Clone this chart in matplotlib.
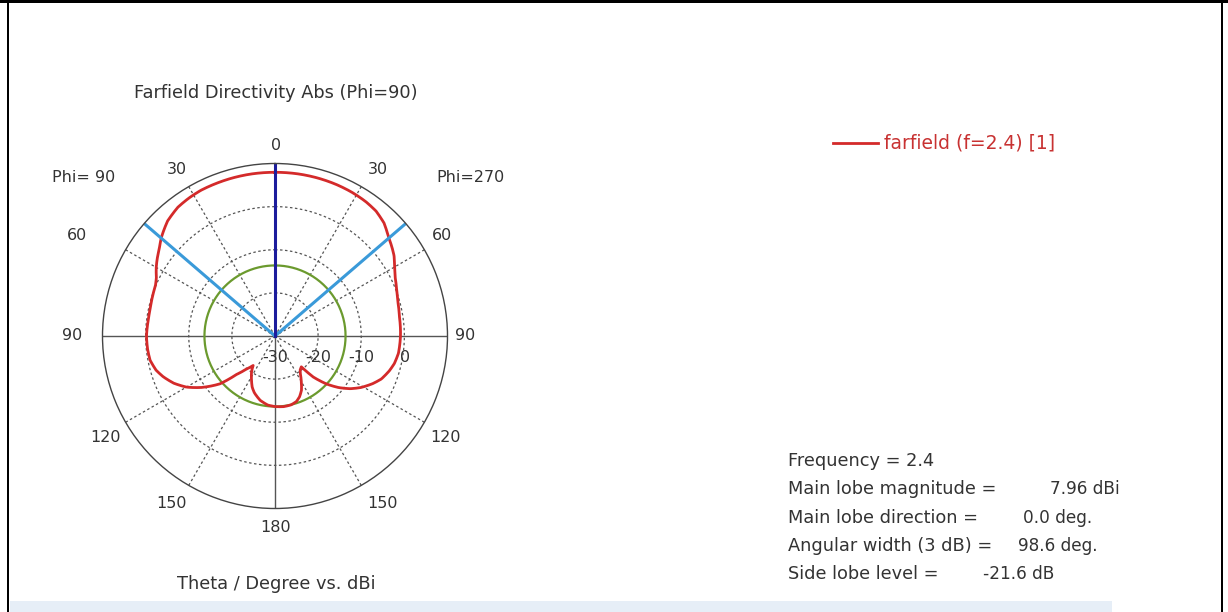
import numpy as np
import matplotlib
matplotlib.use("Agg")
import matplotlib.pyplot as plt
from matplotlib.lines import Line2D
from matplotlib.patches import Rectangle

# farfield cut, Phi=270 half (right side), theta in deg, directivity in dBi
theta_right = [0, 8, 15, 22, 28, 34, 39, 44, 49, 53, 56, 60, 64, 69, 74, 81, 90,
               98, 103, 107, 112, 116, 121, 125, 129, 133, 137, 139.5, 143, 146,
               150, 154, 158, 162, 167, 173, 180]
dbi_right = [7.96, 7.97, 7.95, 7.9, 7.8, 7.6, 7.25, 6.4, 4.9, 4.0, 3.3, 2.0, 1.0,
             0.2, -0.4, -0.8, -0.9, -1.1, -1.6, -2.3, -3.4, -4.8, -6.8, -8.7,
             -11.0, -13.7, -17.0, -20.6, -20.3, -19.5, -17.8, -16.0, -14.8, -14.0,
             -13.6, -13.5, -13.64]

# Phi=90 half (left side)
theta_left = [0, 8, 15, 21, 27, 32, 37, 43, 49, 53, 57, 60, 64, 67, 71, 78, 84,
              90, 96, 101, 106, 110, 115, 120, 125, 131, 135, 139, 143.5, 145,
              147, 152, 156, 160, 167, 174, 180]
dbi_left = [7.96, 7.97, 7.95, 7.92, 7.9, 7.7, 7.4, 6.5, 4.9, 3.6, 2.6, 1.8, 0.6,
            0.1, -0.1, -0.4, -0.35, -0.2, -0.3, -0.5, -1.3, -2.4, -4.1, -6.3,
            -9.2, -13.1, -17.4, -19.8, -21.5, -20.8, -20.0, -18.4, -17.0, -16.0,
            -14.7, -13.9, -13.64]

main_lobe_dir = 0.0
angular_width = 98.6
main_lobe_mag = 7.96
side_lobe_level = -21.6

r_min, r_max = -30, 10
ring_values = [-20, -10, 0]
ring_labels = ["-30", "-20", "-10", "0"]
spoke_angles = [30, 60, 120, 150]

angle_labels = ["0", "30", "30", "Phi= 90", "Phi=270", "60", "60", "90", "90",
                "120", "120", "150", "150", "180"]
info_labels = ["Frequency = 2.4", "Main lobe magnitude =", "Main lobe direction =",
               "Angular width (3 dB) =", "Side lobe level ="]
info_values = ["", "7.96 dBi", "0.0 deg.", "98.6 deg.", "-21.6 dB"]

W, H = 1228, 612
fig = plt.figure(figsize=(W / 100, H / 100), dpi=100)

def px(x, y):
    return x / W, 1 - y / H

txt = "#333333"
grid_c = "#555555"

# polar plot: centre (275, 336), radius 172.5 px
cx, cy, R = 275, 336, 172.5
ax = fig.add_axes([(cx - R) / W, (H - cy - R) / H, 2 * R / W, 2 * R / H],
                  projection="polar")
ax.set_theta_zero_location("N")
ax.set_theta_direction(-1)
ax.set_ylim(r_min, r_max)
ax.grid(False)
ax.set_xticks([])
ax.set_yticks([])
ax.spines["polar"].set_color("#444444")
ax.spines["polar"].set_linewidth(1.0)

full = np.linspace(0, 2 * np.pi, 400)
for rv in ring_values:
    ax.plot(full, [rv] * len(full), color=grid_c, lw=0.9, ls=(0, (2, 2)))
for a in spoke_angles:
    for s in (1, -1):
        ax.plot([np.deg2rad(s * a)] * 2, [r_min, r_max], color=grid_c, lw=0.9,
                ls=(0, (2, 2)))
for a in (0, 90, 180, 270):
    ax.plot([np.deg2rad(a)] * 2, [r_min, r_max], color=grid_c, lw=1.0)

# side lobe level circle
ax.plot(full, [main_lobe_mag + side_lobe_level] * len(full), color="#6b9a2e", lw=1.6)

# farfield curve: right half 0..180, left half mirrored as 180..360
th = np.concatenate([np.deg2rad(theta_right),
                     np.deg2rad(360 - np.array(theta_left[::-1]))])
db = np.concatenate([dbi_right, dbi_left[::-1]])
curve, = ax.plot(th, db, color="#d42a2a", lw=2.0, solid_joinstyle="round")
curve.get_path()._interpolation_steps = 20

# 3 dB beamwidth and main lobe direction
for s in (1, -1):
    a = np.deg2rad(main_lobe_dir + s * angular_width / 2)
    ax.plot([a, a], [r_min, r_max], color="#3a9ad9", lw=2.2)
ax.plot([np.deg2rad(main_lobe_dir)] * 2, [r_min, r_max], color="#1c1c9c", lw=2.2)

fs = 11.5
fs_big = 12.8
# angle labels (pixel positions)
angle_pos = [(276, 146), (177, 169), (378, 169), (84, 177), (471, 177),
             (77, 236), (442, 236), (72, 335), (465, 335), (105, 438),
             (445, 438), (171, 503), (382, 503), (276, 528)]
for lab, (x, y) in zip(angle_labels, angle_pos):
    fig.text(*px(x, y), lab, ha="center", va="center", fontsize=fs, color=txt)

ring_pos = [275, 318, 361, 405]
for lab, x in zip(ring_labels, ring_pos):
    fig.text(*px(x, 358), lab, ha="center", va="center", fontsize=fs, color=txt)

fig.text(*px(276, 93), "Farfield Directivity Abs (Phi=90)", ha="center",
         va="center", fontsize=fs_big, color=txt)
fig.text(*px(276, 584), "Theta / Degree vs. dBi", ha="center", va="center",
         fontsize=fs_big, color=txt)

# legend
fig.add_artist(Line2D([833 / W, 878 / W], [1 - 143 / H] * 2, color="#d42a2a", lw=2.0))
fig.text(*px(884, 143), "farfield (f=2.4) [1]", ha="left", va="center",
         fontsize=13.5, color="#c83232")

# info block
value_x = [0, 1050, 1023, 1018, 983]
for i, (lab, val) in enumerate(zip(info_labels, info_values)):
    y = 461 + i * 28.3
    fig.text(*px(788, y), lab, ha="left", va="center", fontsize=fs_big, color=txt)
    if val:
        fig.text(*px(value_x[i], y), val, ha="left", va="center", fontsize=12.2,
                 color=txt)

# frame of the screenshot
fig.add_artist(Rectangle((0, 1 - 3 / H), 1, 3 / H, transform=fig.transFigure,
                         color="black", lw=0))
fig.add_artist(Rectangle((7 / W, 0), 2 / W, 1, transform=fig.transFigure,
                         color="black", lw=0))
fig.add_artist(Rectangle((1221 / W, 0), 2 / W, 1, transform=fig.transFigure,
                         color="black", lw=0))
fig.add_artist(Rectangle((10 / W, 0), 1102 / W, 11 / H, transform=fig.transFigure,
                         color="#e6eef7", lw=0))

fig.savefig("out.png", dpi=100)
